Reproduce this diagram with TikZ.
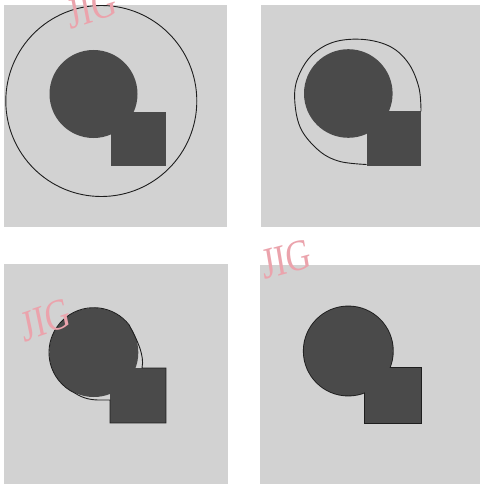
\documentclass[tikz,border=0pt]{standalone}
\usepackage{fontspec}
\newfontfamily\wmfont{Liberation Serif}
\definecolor{bggray}{HTML}{D2D2D2}
\definecolor{darkfill}{HTML}{4A4A4A}
\definecolor{lineblk}{HTML}{1E1E1E}
\definecolor{wmpink}{HTML}{EBA3AC}
\tikzset{
  panel/.style={fill=bggray, draw=none},
  blob/.style={fill=darkfill, draw=none},
  contourline/.style={draw=lineblk, line width=0.9pt, fill=none},
  outlinewide/.style={draw=lineblk, line width=1.8pt, fill=darkfill},
  watermark/.style={text=wmpink, font=\wmfont\fontsize{44}{44}\selectfont, xscale=0.78, inner sep=0pt}
}
\begin{document}
\begin{tikzpicture}[x=1pt,y=-1pt]
\useasboundingbox (0,0) rectangle (480,484);
\fill[white] (0,0) rectangle (480,484);
\clip (0,0) rectangle (480,484);
% ---------- panel 1 ----------
\path[panel] (4,5) rectangle (227,227);
\path[blob] (93.5,94) circle[radius=44];
\path[blob] (110.5,112) rectangle (166,165.5);
\draw[contourline] (101.3,101) circle[radius=95.5];
% ---------- panel 2 ----------
\path[panel] (261,5) rectangle (480,227);
\path[blob] (348.3,93.5) circle[radius=44.3];
\path[blob] (366.5,111.5) rectangle (421,165.5);
\draw[contourline] plot[smooth, tension=0.6] coordinates {
  (421,111.5) (419,88) (409,64) (391,47) (364,39.5) (334,42) (311,56)
  (297,80) (295,104) (301.5,130) (320,151.5) (340,161.5) (366.5,164.5)};
% ---------- panel 3 ----------
\path[panel] (4,264) rectangle (228,484);
\path[blob] (93.8,352.5) circle[radius=44.5];
\path[blob] (110,368) rectangle (166,423);
\coordinate (c3a) at (129.1,324.9);
\draw[contourline] (142,368) .. controls (145,355) and (136,338) .. (c3a)
  arc[start angle=-38, end angle=-245, radius=44.8]
  .. controls (84,399) and (92,400) .. (100,400) -- (110,400)
  -- (110,423) -- (166,423) -- (166,368) -- cycle;
% ---------- panel 4 ----------
\path[panel] (260,265) rectangle (480,484);
\path[outlinewide] (348.3,351) circle[radius=44.5];
\path[outlinewide] (364.5,367.5) rectangle (421,423);
\path[blob] (348.3,351) circle[radius=44.5];
\path[blob] (364.5,367.5) rectangle (421,423);
% ---------- watermarks ----------
\node[watermark, rotate=14] (wm1) at (92,8) {JIG};
\node[watermark, rotate=12] (wm2) at (286,259) {JIG};
\node[watermark, rotate=15] (wm3) at (46,320) {JIG};
\end{tikzpicture}
\end{document}
